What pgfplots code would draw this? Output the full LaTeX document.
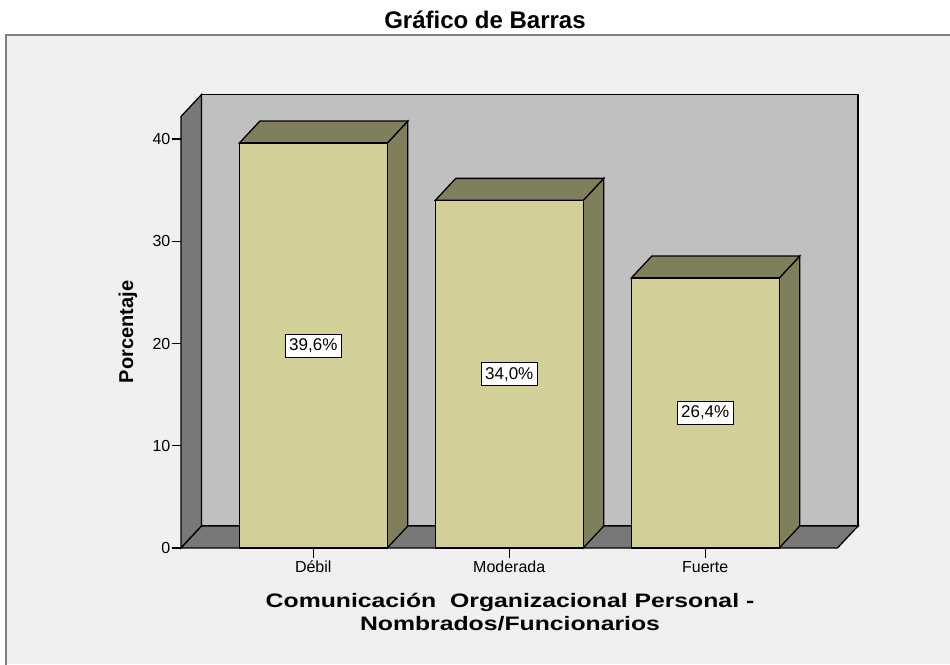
\documentclass[border=0pt]{standalone}
\usepackage{pgfplots}
\pgfplotsset{compat=1.18}
\usepackage{fontspec}
\setmainfont{Liberation Sans}
\newfontfamily\widefont[FakeStretch=1.27]{Liberation Sans}

\definecolor{panel}{HTML}{F0F0F0}
\definecolor{frameline}{HTML}{808080}
\definecolor{backwall}{HTML}{C0C0C0}
\definecolor{sidewall}{HTML}{787878}
\definecolor{barfront}{HTML}{D3CF98}
\definecolor{bardark}{HTML}{807F5C}

\begin{document}
\begin{tikzpicture}[x=1pt,y=1pt]
\useasboundingbox (0,0) rectangle (950,664);
\fill[white] (0,0) rectangle (950,664);
\fill[panel] (6,0) rectangle (950,629);
\draw[frameline, line width=2pt] (6,-2) -- (6,629) -- (952,629);
\node[font=\fontsize{24}{28}\selectfont\bfseries, anchor=base] at (485,635) {Gráfico de Barras};

\begin{axis}[
  at={(181pt,116pt)}, anchor=south west,
  scale only axis, width=679pt, height=454pt,
  xmin=-0.675, xmax=2.79, ymin=0, ymax=44.4,
  clip=false,
  axis x line=bottom, axis y line=left,
  axis line style={draw=none},
  xtick={0,1,2}, xticklabels={Débil,Moderada,Fuerte},
  ytick={0,10,20,30,40},
  tick align=outside, major tick length=9.5pt,
  tick style={black, line width=1.2pt},
  tick label style={font=\fontsize{16}{18}\selectfont},
  yticklabel style={inner xsep=1pt},
  /pgf/number format/assume math mode=true,
]
  % walls and floor
  \addplot[fill=backwall, draw=black, line width=1.3pt] coordinates {(-0.57,2.15)(2.78,2.15)(2.78,44.35)(-0.57,44.35)} -- cycle;
  \addplot[fill=sidewall, draw=black, line width=1.3pt] coordinates {(-0.675,0)(-0.675,42.2)(-0.57,44.35)(-0.57,2.15)} -- cycle;
  \addplot[fill=sidewall, draw=black, line width=1.3pt] coordinates {(-0.675,0)(2.675,0)(2.78,2.15)(-0.57,2.15)} -- cycle;

  % bar sides and tops
  \addplot[fill=bardark, draw=black, line width=1.3pt] coordinates {(0.3775,0)(0.3775,39.6)(0.4825,41.75)(0.4825,2.15)} -- cycle;
  \addplot[fill=bardark, draw=black, line width=1.3pt] coordinates {(-0.3775,39.6)(0.3775,39.6)(0.4825,41.75)(-0.2725,41.75)} -- cycle;
  \addplot[fill=bardark, draw=black, line width=1.3pt] coordinates {(1.3775,0)(1.3775,34.0)(1.4825,36.15)(1.4825,2.15)} -- cycle;
  \addplot[fill=bardark, draw=black, line width=1.3pt] coordinates {(0.6225,34.0)(1.3775,34.0)(1.4825,36.15)(0.7275,36.15)} -- cycle;
  \addplot[fill=bardark, draw=black, line width=1.3pt] coordinates {(2.3775,0)(2.3775,26.4)(2.4825,28.55)(2.4825,2.15)} -- cycle;
  \addplot[fill=bardark, draw=black, line width=1.3pt] coordinates {(1.6225,26.4)(2.3775,26.4)(2.4825,28.55)(1.7275,28.55)} -- cycle;

  % bar fronts
  \addplot[ybar, bar width=0.755, fill=barfront, draw=black, line width=1.3pt] coordinates {(0,39.6)(1,34.0)(2,26.4)};

  % value labels at mid-height
  \addplot[draw=none, nodes near coords, point meta=explicit symbolic,
    every node near coord/.append style={anchor=center, fill=white, draw=black, line width=0.9pt,
      inner xsep=4pt, inner ysep=4.5pt, font=\fontsize{17}{19}\selectfont}]
    coordinates {(0,19.8)[39,6\%] (1,17.0)[34,0\%] (2,13.2)[26,4\%]};
\end{axis}

\node[rotate=90, anchor=base, font=\fontsize{20}{24}\selectfont\bfseries] at (133,332) {Porcentaje};
\node[anchor=base, font=\widefont\bfseries\fontsize{19.5}{23}\selectfont] at (510,57) {Comunicación\ \ Organizacional Personal -};
\node[anchor=base, font=\widefont\bfseries\fontsize{19.5}{23}\selectfont] at (510,34) {Nombrados/Funcionarios};
\end{tikzpicture}
\end{document}
